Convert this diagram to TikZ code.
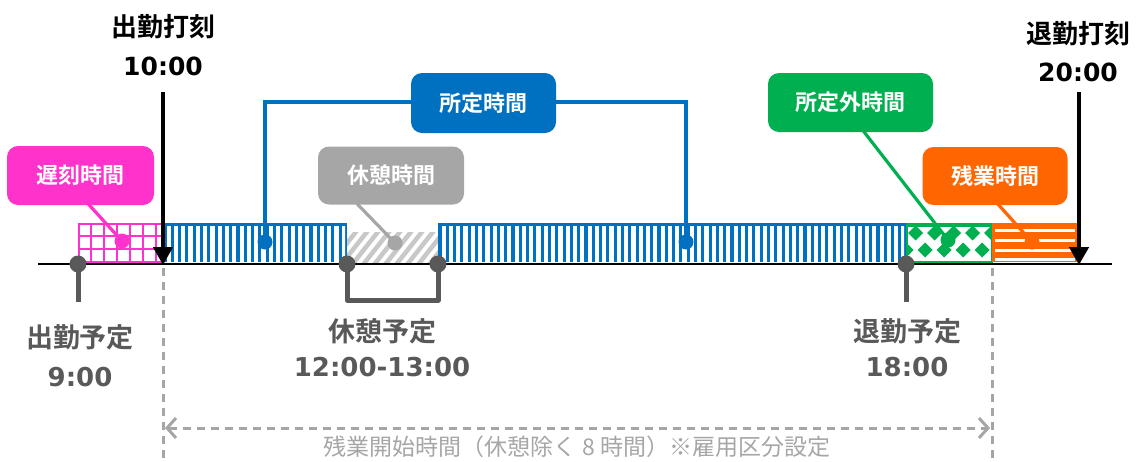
\documentclass[tikz,border=0pt]{standalone}
\usepackage{fontspec}
\setmainfont{DejaVu Sans}
\newfontfamily\jp{Noto Sans CJK JP}[BoldFont={Noto Sans CJK JP Bold}]
\usetikzlibrary{arrows.meta,calc}
\definecolor{cpink}{HTML}{FF33CC}
\definecolor{cblue}{HTML}{0070C0}
\definecolor{cgray}{HTML}{A6A6A6}
\definecolor{cgreen}{HTML}{00B050}
\definecolor{corange}{HTML}{FF6600}
\definecolor{cdark}{HTML}{595959}
\definecolor{chatch}{HTML}{C8C8C8}
\tikzset{
  callout/.style={rounded corners=11pt, text=white, inner sep=0pt,
    font=\jp\bfseries\fontsize{22}{22}\selectfont},
  toplbl/.style={font=\bfseries\fontsize{25}{25}\selectfont, text=black, inner sep=0pt},
  topjp/.style={toplbl, font=\jp\bfseries\fontsize{26}{26}\selectfont},
  botlbl/.style={font=\bfseries\fontsize{26}{26}\selectfont, text=cdark, inner sep=0pt},
  botjp/.style={botlbl, font=\jp\bfseries\fontsize{27}{27}\selectfont},
  pdot/.style={circle, inner sep=0pt, minimum size=15pt},
  mdot/.style={circle, fill=cdark, inner sep=0pt, minimum size=17pt},
  pointer/.style={line width=3.2pt},
  marker/.style={cdark, line width=5pt},
  punch/.style={line width=4.8pt, -{Triangle[width=19pt,length=18pt]}},
  guide/.style={cgray, line width=3pt, dash pattern=on 8pt off 6pt},
}
\begin{document}
\begin{tikzpicture}[x=1pt,y=-1pt]
\useasboundingbox (0,0) rectangle (1146,461);

% ---------- bars ----------
% late (pink grid)
\fill[white] (78,223) rectangle (163,262);
\begin{scope}
\clip (78,223) rectangle (163,262);
\foreach \x in {91,104,117,130,143,156} \draw[cpink, line width=2pt] (\x,223) -- (\x,262);
\foreach \y in {236,249} \draw[cpink, line width=2pt] (78,\y) -- (163,\y);
\end{scope}
\draw[cpink, line width=2.4pt] (79.2,224.2) rectangle (163,262);

% blue stripes 1
\fill[cblue] (163,223) rectangle (347,262);
\begin{scope}
\clip (163,226.5) rectangle (345,262);
\foreach \i in {0,...,25} \fill[white] ({166.5+7.3*\i},226) rectangle ({170.7+7.3*\i},262);
\end{scope}
% break hatch
\fill[white] (347,232) rectangle (438,262);
\begin{scope}
\clip (347,232) rectangle (438,262);
\foreach \i in {-3,...,10} \draw[chatch, line width=4.5pt] ({340+11*\i},266) -- ({370+11*\i},228);
\end{scope}
% blue stripes 2
\fill[cblue] (438,223) rectangle (906,262);
\begin{scope}
\clip (440,226.5) rectangle (904,262);
\foreach \i in {0,...,64} \fill[white] ({441.5+7.3*\i},226) rectangle ({445.7+7.3*\i},262);
\end{scope}
% green diamonds
\fill[white] (906,223) rectangle (992,262);
\begin{scope}
\clip (906,223) rectangle (992,262);
\foreach \i in {0,...,5} {
  \fill[cgreen] ({908+19*\i},233) -- ++(7.5,-7.5) -- ++(7.5,7.5) -- ++(-7.5,7.5) -- cycle;
  \fill[cgreen] ({898.5+19*\i},250) -- ++(7.5,-7.5) -- ++(7.5,7.5) -- ++(-7.5,7.5) -- cycle;
}
\fill[cgreen] (906,223) rectangle (992,227);
\end{scope}
\draw[cgreen, line width=2.4pt] (907.2,224.2) rectangle (992,262);
% orange stripes
\fill[corange] (992,223) rectangle (1077,262);
\foreach \y in {230.5,240.5,250.5,259.5} \fill[white] (995,\y-1.3) rectangle (1075,\y+1.3);

% ---------- baseline ----------
\coordinate (bl) at (38,264);
\coordinate (br) at (1112,264);
\draw[black, line width=2.2pt] (bl) -- (br);

% ---------- guides ----------
\coordinate (g1t) at (163,268);
\coordinate (g1b) at (163,461);
\coordinate (g2t) at (992,268);
\coordinate (g2b) at (992,461);
\draw[guide] (g1t) -- (g1b);
\draw[guide] (g2t) -- (g2b);
\coordinate (ga) at (165,428);
\coordinate (gb) at (990,428);
\draw[guide, {Straight Barb[length=9pt,width=20pt,line width=3pt]}-{Straight Barb[length=9pt,width=20pt,line width=3pt]}] (ga) -- (gb);
\node[font=\jp\fontsize{23}{23}\selectfont, text=cgray, inner sep=0pt] (note) at (577,447) {残業開始時間（休憩除く 8 時間）※雇用区分設定};

% ---------- punch arrows ----------
\coordinate (in0) at (163,92);
\coordinate (in1) at (163,265);
\coordinate (out0) at (1079,92);
\coordinate (out1) at (1079,265);
\draw[punch] (in0) -- (in1);
\draw[punch] (out0) -- (out1);
\node[topjp] (inlbl) at (163,27) {出勤打刻};
\node[toplbl] (intime) at (163,66) {10:00};
\node[topjp] (outlbl) at (1078,34) {退勤打刻};
\node[toplbl] (outtime) at (1078,72) {20:00};

% ---------- schedule markers ----------
\node[mdot] (s9) at (78,264) {};
\coordinate (s9b) at (78,302);
\draw[marker] (s9.center) -- (s9b);
\node[mdot] (b12) at (347,264) {};
\node[mdot] (b13) at (438,264) {};
\coordinate (b12b) at (347,300);
\coordinate (b13b) at (438,300);
\draw[marker, line join=round] (b12.center) -- (b12b) -- (b13b) -- (b13.center);
\node[mdot] (s18) at (906,264) {};
\coordinate (s18b) at (906,302);
\draw[marker] (s18.center) -- (s18b);

\node[botjp] (s9l) at (80,337) {出勤予定};
\node[botlbl] (s9t) at (80,377) {9:00};
\node[botjp] (bl1) at (382,331) {休憩予定};
\node[botlbl] (bl2) at (382,367) {12:00-13:00};
\node[botjp] (s18l) at (907,331) {退勤予定};
\node[botlbl] (s18t) at (907,367) {18:00};

% ---------- callouts ----------
\node[pdot, fill=cpink] (dlate) at (122,241) {};
\node[pdot, fill=cblue] (dreg1) at (265,242) {};
\node[pdot, fill=cblue] (dreg2) at (686,242) {};
\node[pdot, fill=cgray] (dbrk) at (395,243) {};
\node[pdot, fill=cgreen] (dext) at (948,240) {};
\node[pdot, fill=corange] (dover) at (1032,242) {};

\coordinate (rl) at (265,102);
\coordinate (rr) at (686,102);
\draw[cblue, pointer] (dreg1.center) -- (rl) -- (rr) -- (dreg2.center);

\node[callout, fill=cpink, minimum width=147pt, minimum height=59pt] (late) at (80.5,175.5) {遅刻時間};
\node[callout, fill=cblue, minimum width=145pt, minimum height=60pt] (reg) at (483.5,103) {所定時間};
\node[callout, fill=cgray, minimum width=146pt, minimum height=58pt] (brk) at (391,175.5) {休憩時間};
\node[callout, fill=cgreen, minimum width=165pt, minimum height=59pt] (ext) at (850.5,102.5) {所定外時間};
\node[callout, fill=corange, minimum width=145pt, minimum height=58pt] (over) at (995,176) {残業時間};

\draw[cpink, pointer] (late.south) ++(8,-1) -- (dlate.center);
\draw[cgray, pointer] (brk.south) ++(-34,-1) -- (dbrk.center);
\draw[cgreen, pointer] (ext.south) ++(13,-1) -- (dext.center);
\draw[corange, pointer] (over.south) ++(3,-1) -- (dover.center);
\end{tikzpicture}
\end{document}
